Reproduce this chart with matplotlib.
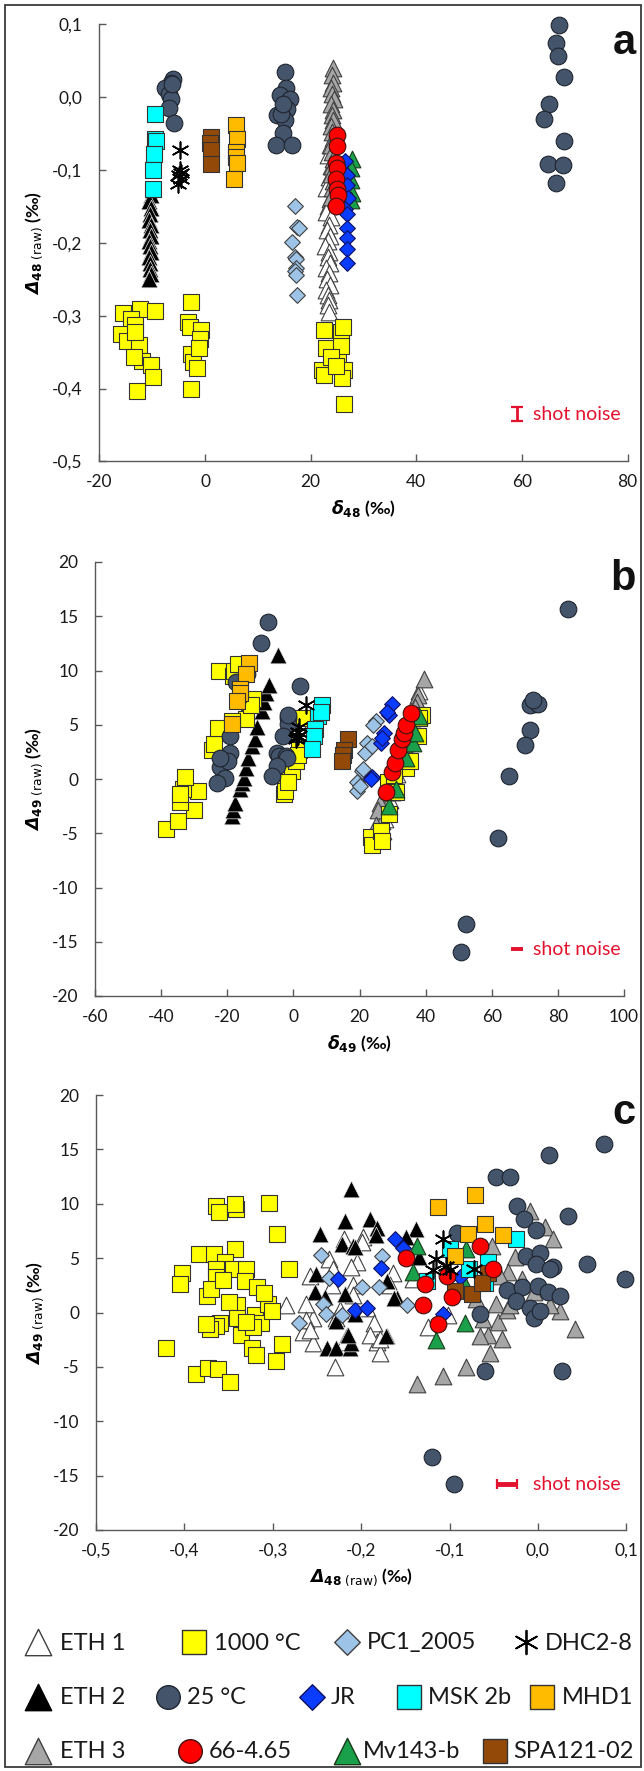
import numpy as np
import matplotlib
matplotlib.use("Agg")
import matplotlib.pyplot as plt
from matplotlib.patches import Rectangle
from matplotlib.ticker import FixedLocator, FuncFormatter

# ---- panel a: delta48 vs Delta48 (raw) ----
A_ETH1_X = [23.6, 23.2, 23.9, 23.4, 22.9, 23.7, 23.3, 23.0, 23.8, 23.5, 23.1, 23.6, 23.3,
            22.8, 23.5, 23.2, 23.7, 22.9, 23.4, 23.1, 23.6, 23.0, 23.3, 23.5, 23.2, 23.4]
A_ETH1_Y = [-0.065, -0.08, -0.095, -0.11, -0.125, -0.14, -0.15, -0.158, -0.165, -0.175, -0.182,
            -0.19, -0.197, -0.205, -0.212, -0.22, -0.228, -0.235, -0.242, -0.25, -0.258, -0.265,
            -0.272, -0.278, -0.285, -0.295]
A_ETH2_X = [-10.3, -10.6, -10.2, -10.5, -10.7, -10.3, -10.5, -10.2, -10.6, -10.4, -10.3, -10.6,
            -10.4, -10.5, -10.3, -10.6]
A_ETH2_Y = [-0.135, -0.143, -0.152, -0.16, -0.168, -0.176, -0.183, -0.19, -0.198, -0.205, -0.213,
            -0.22, -0.228, -0.236, -0.243, -0.25]
A_ETH3_X = [24.2, 24.0, 24.3, 23.9, 24.1, 24.4, 23.8, 24.2, 24.0, 24.3, 23.9, 24.1, 24.2, 23.8,
            24.0, 24.3, 24.1, 23.9, 24.2, 24.0, 23.8]
A_ETH3_Y = [0.04, 0.03, 0.02, 0.012, 0.005, -0.003, -0.01, -0.018, -0.025, -0.032, -0.04, -0.048,
            -0.056, -0.065, -0.075, -0.085, -0.095, -0.105, -0.115, -0.125, -0.137]
A_T1000_X = [-15.6, -12.4, -9.4, -14.1, -13.2, -15.9, -14.7, -12.5, -12.0, -13.5, -10.2, -9.9,
             -12.8, -13.2, -2.7, -3.2, -2.9, -0.7, -0.9, -2.7, -2.3, -1.5, -1.1, -2.7,
             22.5, 25.7, 26.1, 23.0, 22.2, 22.6, 25.2, 25.7, 26.3, 25.9, 26.3, 23.8, 24.8]
A_T1000_Y = [-0.296, -0.291, -0.293, -0.305, -0.313, -0.325, -0.335, -0.340, -0.362, -0.357,
             -0.367, -0.384, -0.403, -0.323, -0.281, -0.308, -0.315, -0.320, -0.332, -0.352,
             -0.364, -0.372, -0.345, -0.401, -0.320, -0.323, -0.315, -0.345, -0.374, -0.381,
             -0.359, -0.342, -0.374, -0.386, -0.421, -0.357, -0.369]
A_T25_X = [-6.0, -6.5, -7.5, -6.8, -6.5, -6.8, -5.8, -6.2,
           15.1, 15.4, 14.2, 16.0, 13.7, 15.6, 15.2, 14.8, 13.5, 16.4, 14.3, 14.8,
           67.1, 66.5, 66.9, 67.9, 65.1, 64.2, 67.9, 64.9, 67.7, 66.5]
A_T25_Y = [0.025, 0.02, 0.012, 0.005, -0.002, -0.015, -0.036, 0.018,
           0.035, 0.013, 0.003, -0.003, -0.024, -0.016, -0.031, -0.049, -0.066, -0.066, -0.023, -0.009,
           0.099, 0.075, 0.056, 0.028, -0.009, -0.030, -0.060, -0.092, -0.093, -0.118]
A_PC1_X = [17.0, 17.5, 17.8, 16.5, 17.0, 17.3, 17.2, 17.0, 17.3, 17.5]
A_PC1_Y = [-0.149, -0.178, -0.180, -0.199, -0.220, -0.222, -0.234, -0.239, -0.244, -0.271]
A_JR_X = [26.5, 26.9, 26.9, 27.1, 26.5, 26.9, 26.9, 26.9, 26.9, 26.9]
A_JR_Y = [-0.088, -0.107, -0.121, -0.139, -0.153, -0.161, -0.179, -0.193, -0.209, -0.227]
A_MSK_X = [-9.4, -9.5, -9.3, -9.7, -9.9, -9.8]
A_MSK_Y = [-0.023, -0.057, -0.060, -0.078, -0.100, -0.126]
A_MHD_X = [5.9, 6.1, 5.9, 5.9, 6.1, 5.5]
A_MHD_Y = [-0.038, -0.058, -0.075, -0.082, -0.090, -0.112]
A_SPA_X = [1.2, 1.0, 1.2, 1.2]
A_SPA_Y = [-0.055, -0.063, -0.073, -0.092]
A_R66_X = [24.9, 24.9, 24.8, 24.9, 24.8, 24.9, 25.1, 24.8]
A_R66_Y = [-0.052, -0.067, -0.090, -0.097, -0.112, -0.126, -0.134, -0.149]
A_MV_X = [27.9, 27.7, 27.7, 27.3, 27.9, 27.7]
A_MV_Y = [-0.085, -0.097, -0.114, -0.126, -0.131, -0.141]
A_DHC_X = [-4.8, -4.8, -4.6, -5.0, -4.6, -5.1]
A_DHC_Y = [-0.073, -0.100, -0.104, -0.107, -0.112, -0.119]

# ---- panel b: delta49 vs Delta49 (raw) ----
B_T1000_X = [-38.5, -35.1, -30.0, -28.8, -34.4, -33.3, -32.9, -34.4,
             -24.8, -24.2, -23.0, -14.3, -18.6, -22.6, -18.2, -18.0, -13.6, -12.4, -16.7, -13.0,
             -3.1, -2.8, -2.7, -0.3, 0.7, 1.7, 1.3, -1.8, 2.5,
             23.4, 23.7, 26.5, 26.8, 29.0, 28.6, 31.1, 34.2, 35.2, 37.7, 39.0, 38.0, 30.5]
B_T1000_Y = [-4.6, -3.9, -2.9, -1.1, -2.1, -0.9, 0.2, -1.4,
             2.7, 3.2, 4.7, 5.5, 5.3, 10.0, 9.5, 10.0, 7.1, 7.4, 10.6, 6.8,
             0.4, -1.4, -1.1, 0.7, 1.7, 2.7, 2.2, -0.3, 5.6,
             -5.3, -6.1, -4.8, -5.7, -3.2, -0.3, -1.2, 1.0, 1.7, 4.0, 5.9, 5.6, 0.4]
B_T25_X = [-7.8, -9.7, -14.2, -17.4, -16.5, -19.2, -19.2, -22.3, -20.7, -23.2, -19.8, -22.3,
           1.9, -1.8, -1.6, -3.1, -4.9, -4.3, -2.4, -2.1, -4.9, -6.5, -1.8,
           83.1, 72.8, 71.5, 74.0, 72.5, 71.5, 70.0, 65.3, 62.0, 52.3, 50.8]
B_T25_Y = [14.5, 12.5, 9.7, 8.9, 7.6, 4.0, 2.4, 1.1, 0.1, -0.4, 1.7, 1.9,
           8.6, 5.6, 5.1, 4.0, 2.4, 2.1, 2.1, 1.9, 1.2, 0.3, 5.9,
           15.65, 6.9, 6.8, 6.9, 7.3, 4.5, 3.1, 0.3, -5.4, -13.4, -15.9]
B_ETH1_X = [27.0, 27.7, 28.3, 29.2, 29.8, 30.7, 31.3, 32.2, 32.8, 33.7, 34.3, 35.2, 35.8, 36.7, 37.2, 38.1]
B_ETH1_Y = [-4.8, -3.7, -3.0, -1.9, -1.2, -0.1, 0.5, 1.6, 2.3, 3.3, 4.0, 5.0, 5.6, 6.7, 7.3, 8.1]
B_ETH2_X = [-18.6, -18.4, -17.7, -16.1, -15.5, -14.9, -14.3, -13.8, -12.6, -11.8, -11.1, -9.5,
            -8.9, -8.3, -7.4, -4.6]
B_ETH2_Y = [-3.4, -2.9, -2.2, -0.9, -0.4, 0.1, 1.0, 1.9, 3.0, 3.7, 4.8, 6.3, 7.1, 7.9, 8.7, 11.4]
B_ETH3_X = [39.5, 37.7, 37.3, 36.7, 36.0, 35.2, 34.3, 33.5, 32.4, 31.6, 30.5, 29.4, 28.0,
            26.8, 26.2, 25.5, 24.9]
B_ETH3_Y = [9.2, 7.7, 7.1, 6.6, 5.8, 5.0, 4.0, 3.2, 2.3, 1.4, 0.6, -0.4, -1.2, -3.9, -2.2, -2.9, -4.2]
B_PC1_X = [24.9, 22.4, 21.8, 20.6, 19.3, 19.1, 23.7, 21.0, 20.0, 24.2]
B_PC1_Y = [5.3, 3.3, 2.4, 0.7, -0.3, -1.1, 3.0, 0.9, -0.6, 5.0]
B_JR_X = [29.9, 29.0, 27.4, 26.5, 23.7, 23.4, 26.8, 28.4]
B_JR_Y = [6.9, 5.9, 4.2, 3.3, 0.2, 0.0, 3.8, 6.2]
B_MSK_X = [8.7, 7.5, 6.6, 6.3, 5.6, 8.2]
B_MSK_Y = [6.8, 5.8, 4.6, 4.0, 2.8, 6.2]
B_MHD_X = [-13.6, -14.5, -16.1, -16.1, -17.0, -18.6]
B_MHD_Y = [10.7, 9.7, 8.3, 7.9, 7.2, 5.1]
B_SPA_X = [16.6, 15.4, 15.0, 14.6]
B_SPA_Y = [3.7, 2.7, 2.2, 1.7]
B_R66_X = [28.0, 29.9, 30.7, 31.7, 32.9, 33.5, 34.2, 35.5]
B_R66_Y = [-1.2, 0.6, 1.5, 2.7, 3.7, 4.2, 5.0, 6.1]
B_MV_X = [29.0, 31.1, 34.2, 36.1, 36.7, 38.0]
B_MV_Y = [-2.5, -0.9, 1.9, 3.3, 4.2, 5.8]
B_DHC_X = [3.8, 1.7, 1.3, 0.9, 1.5, 1.1]
B_DHC_Y = [6.8, 4.8, 4.0, 3.7, 4.3, 3.9]

# ---- panel c: Delta48 (raw) vs Delta49 (raw) ----
C_T1000_X = [-0.421, -0.387, -0.373, -0.362, -0.348, -0.364, -0.361, -0.342, -0.343, -0.304, -0.295, -0.282,
             -0.403, -0.405, -0.384, -0.367, -0.343, -0.354, -0.364, -0.364, -0.345, -0.330, -0.332, -0.318,
             -0.374, -0.341, -0.320, -0.313, -0.305, -0.301, -0.360, -0.364, -0.371, -0.336, -0.324, -0.319,
             -0.290, -0.296, -0.350, -0.310, -0.340, -0.322, -0.370, -0.356, -0.330, -0.376]
C_T1000_Y = [-3.3, -5.7, -5.1, -5.2, -6.4, 9.8, 9.2, 9.5, 10.0, 10.1, 7.2, 4.0,
             3.6, 2.6, 5.4, 5.4, 5.8, 4.6, 4.0, 3.3, 4.0, 4.0, 2.9, 2.3,
             1.5, 0.7, -0.2, -1.0, 0.8, 0.1, -1.0, -1.2, -1.5, -2.1, -3.3, -3.9,
             -2.9, -4.5, 1.0, 1.8, -0.5, -1.3, 2.2, 3.0, -0.9, -1.1]
C_T25_X = [0.075, 0.013, -0.047, -0.032, -0.024, -0.016, 0.034, -0.002, -0.092, -0.014, 0.002, -0.002,
           0.017, 0.014, 0.055, 0.098, -0.035, -0.018, 0.000, 0.011, 0.025, -0.025, -0.009, -0.005,
           0.002, -0.066, -0.060, 0.027, -0.120, -0.095]
C_T25_Y = [15.5, 14.5, 12.5, 12.5, 9.8, 8.6, 8.9, 7.6, 7.3, 5.2, 5.5, 4.5,
           4.2, 4.0, 4.5, 3.1, 2.1, 2.3, 2.4, 1.9, 1.5, 1.1, 0.4, -0.5,
           0.1, -0.1, -5.4, -5.4, -13.3, -15.8]
C_ETH1_X = [-0.285, -0.230, -0.266, -0.254, -0.262, -0.258, -0.237, -0.232, -0.205, -0.198, -0.220,
            -0.209, -0.194, -0.182, -0.186, -0.228, -0.220, -0.254, -0.179, -0.262, -0.258, -0.211,
            -0.199, -0.164, -0.167, -0.190, -0.179, -0.141, -0.124, -0.224, -0.233, -0.209, -0.102]
C_ETH1_Y = [0.7, -5.0, -1.8, -0.5, 0.8, 3.4, 4.9, 4.0, 4.6, 6.9, 6.8,
            2.5, 0.4, -2.7, -1.0, -0.5, -2.7, -2.8, -3.7, -0.7, -1.6, 4.2,
            6.5, 3.6, 2.5, -2.1, -2.4, 3.1, -1.3, 0.2, 2.5, 1.6, -0.2]
C_ETH2_X = [-0.211, -0.218, -0.190, -0.247, -0.222, -0.209, -0.251, -0.241, -0.228, -0.216, -0.239,
            -0.228, -0.213, -0.211, -0.182, -0.138, -0.149, -0.183, -0.207, -0.171, -0.160, -0.135,
            -0.218, -0.207, -0.215, -0.171, -0.252, -0.163, -0.172]
C_ETH2_Y = [11.4, 8.4, 8.6, 7.2, 6.3, 6.1, 3.5, 1.4, -0.8, -2.1, -3.3,
            -3.3, -3.3, -2.8, 7.8, 7.7, 6.9, 7.1, 6.0, 2.9, 1.3, 5.1,
            1.7, -0.1, -2.1, -2.2, 1.9, 1.3, -2.2]
C_ETH3_X = [-0.009, 0.008, 0.017, 0.042, 0.025, -0.026, -0.034, -0.043, -0.047, -0.045, -0.035, -0.056,
            -0.066, -0.041, -0.054, -0.081, -0.107, -0.137, -0.052, 0.014, -0.018, -0.005, -0.032,
            -0.062, -0.070]
C_ETH3_Y = [9.3, 7.9, 6.8, -1.5, 0.1, 5.1, 3.7, 3.4, 0.8, -0.9, 0.2, -2.1,
            -2.2, -2.4, -3.7, -5.0, -5.8, -6.6, 6.1, 0.7, 3.1, 1.9, 0.7,
            -0.6, 1.2]
C_PC1_X = [-0.245, -0.236, -0.243, -0.270, -0.222, -0.199, -0.180, -0.177, -0.148, -0.240]
C_PC1_Y = [5.3, 3.2, 0.8, -1.0, -0.2, 2.3, 2.3, 5.2, 0.7, -0.1]
C_JR_X = [-0.162, -0.153, -0.178, -0.226, -0.207, -0.193, -0.107, -0.088]
C_JR_Y = [6.8, 5.9, 4.1, 3.1, 0.2, 0.4, -0.1, 3.3]
C_MSK_X = [-0.025, -0.057, -0.060, -0.100, -0.126, -0.078]
C_MSK_Y = [6.8, 4.6, 2.7, 5.8, 2.9, 4.0]
C_MHD_X = [-0.113, -0.071, -0.060, -0.079, -0.039, -0.094]
C_MHD_Y = [9.7, 10.8, 8.1, 7.2, 7.1, 5.2]
C_SPA_X = [-0.057, -0.094, -0.075, -0.063]
C_SPA_Y = [3.6, 2.0, 1.7, 2.7]
C_R66_X = [-0.149, -0.066, -0.130, -0.113, -0.051, -0.097, -0.128, -0.103]
C_R66_Y = [5.0, 6.1, 0.7, -1.1, 4.0, 1.4, 2.6, 3.4]
C_MV_X = [-0.137, -0.115, -0.083, -0.081, -0.141, -0.083]
C_MV_Y = [6.1, -2.5, -1.0, 5.8, 3.7, 2.5]
C_DHC_X = [-0.107, -0.115, -0.119, -0.100, -0.072, -0.104]
C_DHC_Y = [6.8, 4.9, 3.9, 3.9, 4.0, 4.3]

# shot noise (1 sigma) bars
SHOT_A = 0.01
SHOT_B = 0.0
SHOT_C = 0.011

NAMES = ["ETH 1", "1000 °C", "PC1_2005", "DHC2-8",
         "ETH 2", "25 °C", "JR", "MSK 2b", "MHD1",
         "ETH 3", "66-4.65", "Mv143-b", "SPA121-02"]

plt.rcParams["font.family"] = ["Lato", "DejaVu Sans"]
plt.rcParams["mathtext.fontset"] = "custom"
plt.rcParams["mathtext.rm"] = "DejaVu Sans:italic:bold"
plt.rcParams["mathtext.it"] = "DejaVu Sans:italic:bold"
plt.rcParams["mathtext.sf"] = "DejaVu Sans:bold"
plt.rcParams["mathtext.tt"] = "DejaVu Sans"

# marker, face, edge, size (pt), edge width
STYLE = {
    "ETH 1": ("^", "white", "#404040", 12, 0.8),
    "ETH 2": ("^", "black", "#e6e6e6", 12, 0.5),
    "ETH 3": ("^", "#a6a6a6", "#404040", 12, 0.8),
    "1000 °C": ("s", "#ffff00", "#333333", 11, 0.8),
    "25 °C": ("o", "#44546a", "#1e2530", 12, 0.8),
    "PC1_2005": ("D", "#9dc3e6", "#404040", 8, 0.8),
    "Mv143-b": ("^", "#1aa04a", "#1a3a1a", 12, 0.8),
    "JR": ("D", "#0a3cff", "#101060", 8, 0.8),
    "MSK 2b": ("s", "#00ffff", "#333333", 11, 0.8),
    "MHD1": ("s", "#ffbb00", "#333333", 11, 0.8),
    "SPA121-02": ("s", "#934a08", "#333333", 11, 0.8),
    "66-4.65": ("o", "#ff0000", "#401010", 12, 0.8),
    "DHC2-8": ((6, 2, 0), "black", "black", 12, 1.2),
}
ORDER = ["ETH 1", "ETH 2", "ETH 3", "1000 °C", "25 °C", "PC1_2005", "Mv143-b", "JR",
         "MSK 2b", "MHD1", "SPA121-02", "66-4.65", "DHC2-8"]

PANEL_A = {"ETH 1": (A_ETH1_X, A_ETH1_Y), "ETH 2": (A_ETH2_X, A_ETH2_Y), "ETH 3": (A_ETH3_X, A_ETH3_Y),
           "1000 °C": (A_T1000_X, A_T1000_Y), "25 °C": (A_T25_X, A_T25_Y), "PC1_2005": (A_PC1_X, A_PC1_Y),
           "Mv143-b": (A_MV_X, A_MV_Y), "JR": (A_JR_X, A_JR_Y), "MSK 2b": (A_MSK_X, A_MSK_Y),
           "MHD1": (A_MHD_X, A_MHD_Y), "SPA121-02": (A_SPA_X, A_SPA_Y), "66-4.65": (A_R66_X, A_R66_Y),
           "DHC2-8": (A_DHC_X, A_DHC_Y)}
PANEL_B = {"ETH 1": (B_ETH1_X, B_ETH1_Y), "ETH 2": (B_ETH2_X, B_ETH2_Y), "ETH 3": (B_ETH3_X, B_ETH3_Y),
           "1000 °C": (B_T1000_X, B_T1000_Y), "25 °C": (B_T25_X, B_T25_Y), "PC1_2005": (B_PC1_X, B_PC1_Y),
           "Mv143-b": (B_MV_X, B_MV_Y), "JR": (B_JR_X, B_JR_Y), "MSK 2b": (B_MSK_X, B_MSK_Y),
           "MHD1": (B_MHD_X, B_MHD_Y), "SPA121-02": (B_SPA_X, B_SPA_Y), "66-4.65": (B_R66_X, B_R66_Y),
           "DHC2-8": (B_DHC_X, B_DHC_Y)}
PANEL_C = {"ETH 1": (C_ETH1_X, C_ETH1_Y), "ETH 2": (C_ETH2_X, C_ETH2_Y), "ETH 3": (C_ETH3_X, C_ETH3_Y),
           "1000 °C": (C_T1000_X, C_T1000_Y), "25 °C": (C_T25_X, C_T25_Y), "PC1_2005": (C_PC1_X, C_PC1_Y),
           "Mv143-b": (C_MV_X, C_MV_Y), "JR": (C_JR_X, C_JR_Y), "MSK 2b": (C_MSK_X, C_MSK_Y),
           "MHD1": (C_MHD_X, C_MHD_Y), "SPA121-02": (C_SPA_X, C_SPA_Y), "66-4.65": (C_R66_X, C_R66_Y),
           "DHC2-8": (C_DHC_X, C_DHC_Y)}

W, H = 644, 1771
RED = "#e3122e"
TXT = "#1a1a1a"


def px_rect(left, top, right, bottom):
    return [left / W, 1 - bottom / H, (right - left) / W, (bottom - top) / H]


def comma(v, pos=None):
    s = f"{v:.1f}".replace(".", ",")
    return "0,0" if s == "-0,0" else s


def style_axes(ax, xt, yt, xfmt=None, yfmt=None):
    for side in ("top", "right"):
        ax.spines[side].set_visible(False)
    for side in ("left", "bottom"):
        ax.spines[side].set_color("#595959")
        ax.spines[side].set_linewidth(1.0)
    ax.xaxis.set_major_locator(FixedLocator(xt))
    ax.yaxis.set_major_locator(FixedLocator(yt))
    ax.set_xlim(xt[0], xt[-1])
    ax.set_ylim(yt[0], yt[-1])
    if xfmt:
        ax.xaxis.set_major_formatter(FuncFormatter(xfmt))
    else:
        ax.xaxis.set_major_formatter(FuncFormatter(lambda v, p: f"{v:.0f}"))
    if yfmt:
        ax.yaxis.set_major_formatter(FuncFormatter(yfmt))
    else:
        ax.yaxis.set_major_formatter(FuncFormatter(lambda v, p: f"{v:.0f}"))
    ax.tick_params(direction="in", length=5, width=1.0, color="#595959",
                   labelsize=12.5, labelcolor=TXT)
    ax.tick_params(axis="y", pad=12)
    ax.tick_params(axis="x", pad=9)


def draw_points(ax, data):
    for k, name in enumerate(ORDER):
        x, y = data[name]
        mk, fc, ec, ms, lw = STYLE[name]
        if name == "DHC2-8":
            ax.scatter(x, y, marker=mk, s=ms ** 2, c=fc, linewidths=lw, zorder=3 + k, clip_on=False)
        else:
            ax.scatter(x, y, marker=mk, s=ms ** 2, facecolors=fc, edgecolors=ec, linewidths=lw,
                       zorder=3 + k, clip_on=False)


fig = plt.figure(figsize=(W / 100, H / 100), dpi=100)

ax_a = fig.add_axes(px_rect(99.4, 24.3, 627.5, 461.4))
ax_b = fig.add_axes(px_rect(95.3, 562, 623.8, 996))
ax_c = fig.add_axes(px_rect(96.1, 1095, 626.3, 1530))

style_axes(ax_a, [-20, 0, 20, 40, 60, 80], [-0.5, -0.4, -0.3, -0.2, -0.1, 0.0, 0.1], yfmt=comma)
style_axes(ax_b, [-60, -40, -20, 0, 20, 40, 60, 80, 100], [-20, -15, -10, -5, 0, 5, 10, 15, 20])
style_axes(ax_c, [-0.5, -0.4, -0.3, -0.2, -0.1, 0.0, 0.1], [-20, -15, -10, -5, 0, 5, 10, 15, 20], xfmt=comma)

draw_points(ax_a, PANEL_A)
draw_points(ax_b, PANEL_B)
draw_points(ax_c, PANEL_C)

lab48 = r"$\Delta_{\mathsf{48}\ \mathtt{(raw)}}$ (‰)"
lab49 = r"$\Delta_{\mathsf{49}\ \mathtt{(raw)}}$ (‰)"
ax_a.set_xlabel(r"$\delta_{\mathsf{48}}$ (‰)", fontsize=12.5, fontweight="bold", labelpad=6)
ax_a.set_ylabel(lab48, fontsize=12.5, fontweight="bold", labelpad=5)
ax_b.set_xlabel(r"$\delta_{\mathsf{49}}$ (‰)", fontsize=12.5, fontweight="bold", labelpad=6)
ax_b.set_ylabel(lab49, fontsize=12.5, fontweight="bold", labelpad=5)
ax_c.set_xlabel(lab48, fontsize=12.5, fontweight="bold", labelpad=6)
ax_c.set_ylabel(lab49, fontsize=12.5, fontweight="bold", labelpad=5)

# shot noise markers
ax_a.errorbar([59.0], [-0.435], yerr=SHOT_A, fmt="none", ecolor=RED, elinewidth=2.0,
              capsize=4, capthick=1.6, zorder=20)
ax_a.text(62.2, -0.435, "shot noise", color=RED, fontsize=14, va="center", ha="left")
ax_b.errorbar([67.7], [-15.7], yerr=SHOT_B, fmt="none", ecolor=RED, elinewidth=1.5,
              capsize=4.5, capthick=2.6, zorder=20)
ax_b.text(72.5, -15.7, "shot noise", color=RED, fontsize=14, va="center", ha="left")
ax_c.errorbar([-0.035], [-15.8], xerr=SHOT_C, fmt="none", ecolor=RED, elinewidth=3.5,
              capsize=3.5, capthick=1.6, zorder=20)
ax_c.text(-0.006, -15.8, "shot noise", color=RED, fontsize=14, va="center", ha="left")

# panel letters
for letter, base in (("a", 54), ("b", 590), ("c", 1124)):
    fig.text(636 / W, 1 - base / H, letter, ha="right", va="baseline", fontsize=30,
             fontweight="bold", family="Liberation Sans", color="#111111")

# legend + frame drawn on an overlay in pixel units
ov = fig.add_axes([0, 0, 1, 1])
ov.set_xlim(0, W)
ov.set_ylim(H, 0)
ov.axis("off")
ov.add_patch(Rectangle((5, 5), 636, 1762, fill=False, lw=1.3, ec="#3a3a3a"))

LEG_ROWS = [1642, 1697, 1751]
LEG_POS = {"ETH 1": (0, 38, 60), "1000 °C": (0, 194, 214), "PC1_2005": (0, 347, 367), "DHC2-8": (0, 526, 545),
           "ETH 2": (1, 38, 60), "25 °C": (1, 168, 187), "JR": (1, 312, 331), "MSK 2b": (1, 409, 428),
           "MHD1": (1, 542, 562),
           "ETH 3": (2, 38, 60), "66-4.65": (2, 190, 209), "Mv143-b": (2, 347, 363), "SPA121-02": (2, 495, 513)}
LEG_SIZE = {"^": 19, "s": 17.5, "o": 17, "D": 13, (6, 2, 0): 17}
for name in NAMES:
    row, mx, tx = LEG_POS[name]
    mk, fc, ec, ms, lw = STYLE[name]
    y = LEG_ROWS[row]
    if name == "ETH 2":
        ec = "black"
    if name == "DHC2-8":
        ov.scatter([mx], [y], marker=mk, s=LEG_SIZE[mk] ** 2, c=fc, linewidths=1.3)
    else:
        ov.scatter([mx], [y], marker=mk, s=LEG_SIZE[mk] ** 2, facecolors=fc, edgecolors=ec, linewidths=1.0)
    ov.text(tx, y + 1, name, fontsize=17, va="center", ha="left", color=TXT)

fig.savefig("out.png", dpi=100)
